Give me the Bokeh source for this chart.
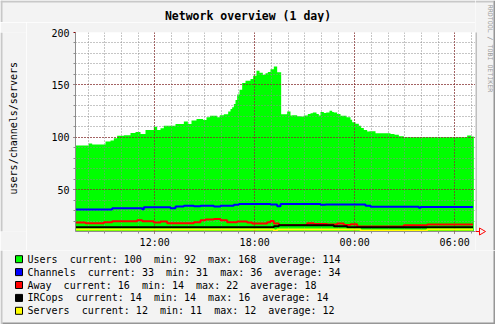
import math
from bokeh.plotting import figure
from bokeh.layouts import column, row
from bokeh.models import Range1d, FixedTicker, LinearAxis, Grid, ColumnDataSource
from bokeh.core.properties import value
from bokeh.embed import file_html
from bokeh.resources import INLINE

TITLE = "Network overview (1 day)"
Y_LABEL = "users/channels/servers"
CREDIT = "RRDTOOL / TOBI OETIKER"

# time axis in hours since 00:00 of the first day
x_ticks = [12, 18, 24, 30]
x_tick_labels = ["12:00", "18:00", "00:00", "06:00"]
x_minor = list(range(8, 32))
y_ticks = [50, 100, 150, 200]
y_minor = list(range(20, 200, 10))

users_t = [7.25, 8.05, 8.25, 9.05, 9.35, 9.55, 9.75, 10.15, 10.55, 10.85, 11.15, 11.45,
           11.95, 12.15, 12.35, 12.55, 13.25, 13.75, 13.99, 14.21, 14.51, 14.91, 15.11,
           15.31, 15.75, 15.91, 16.15, 16.41, 16.55, 16.65, 16.75, 16.85, 16.95, 17.09,
           17.25, 17.45, 17.75, 17.91, 18.11, 18.29, 18.49, 18.65, 18.79, 18.95, 19.15,
           19.35, 19.59, 19.95, 20.15, 20.25, 20.55, 20.75, 20.95, 21.19, 21.35, 21.49,
           21.71, 21.85, 21.95, 22.15, 22.29, 22.49, 22.65, 22.75, 22.95, 23.15, 23.51,
           23.75, 23.85, 24.05, 24.25, 24.39, 24.55, 24.75, 24.89, 25.25, 26.15, 26.39,
           26.65, 26.95, 30.75, 30.99, 31.15]
users_v = [92, 94, 93, 96, 97, 99, 101.5, 102, 104, 105, 103, 107,
           110, 107, 108.5, 111, 112.7, 115, 112.7, 116, 117.5, 116.5, 119,
           120.4, 119, 121, 122, 124.5, 127, 128.6, 131.8, 135.6, 140.7, 145.4,
           151.8, 154, 155.6, 158.8, 163.5, 161.6, 159.7, 161, 162.3, 165, 167.6,
           162, 122, 124.5, 120.7, 121, 120, 119.7, 120.7, 122.3, 122.9, 123.5,
           122.3, 120.7, 124, 123.2, 123.5, 125.4, 124, 123.5, 122.3, 120.4, 119,
           116.6, 114.3, 112.8, 110.9, 108.9, 107, 105.4, 105.7, 103.8, 103.2, 102.3,
           101, 100, 101.6, 100.7, 100.7]

channels_t = [7.25, 9.45, 11.25, 11.35, 12.95, 13.25, 13.75, 14.35, 14.75, 15.55, 15.95,
              16.75, 17.05, 18.95, 19.35, 19.55, 21.95, 22.25, 24.65, 24.95, 27.85, 27.95, 31.1]
channels_v = [31, 32.3, 31.3, 33.2, 32.3, 33.9, 34.5, 34.2, 34.5, 33.9, 34.5,
              35.5, 36.2, 35.8, 34.2, 36.2, 35.5, 35.8, 34.5, 33.6, 32.6, 33.3, 33.3]

away_t = [7.25, 7.85, 8.95, 9.45, 10.95, 11.25, 11.95, 12.35, 12.75, 14.35, 14.75, 15.05,
          15.55, 15.95, 16.35, 16.95, 17.55, 17.85, 18.75, 18.95, 19.15, 19.45, 21.15,
          21.55, 22.35, 22.95, 23.35, 23.75, 24.15, 26.95, 28.35, 31.1]
away_v = [18.5, 17.9, 18.8, 19.8, 20.7, 19.8, 18.5, 19.5, 17.9, 18.8, 20.7, 21.4,
          22, 20.7, 18.8, 19.5, 18.5, 17.6, 18.8, 20.1, 17.6, 16.3, 17.9,
          17.2, 16.6, 17.6, 16.3, 16.9, 14.8, 16, 16.6, 16.6]

ircops_t = [7.25, 19.15, 19.45, 22.75, 23.55, 31.1]
ircops_v = [14, 15, 16, 15, 14, 14]

servers_t = [7.25, 19.15, 19.35, 24.35, 28.35, 31.1]
servers_v = [12, 11, 12, 11, 12, 12]

names = ["Users", "Channels", "Away", "IRCops", "Servers"]
colors = ["#00FF00", "#0000FF", "#FF0000", "#000000", "#FFFF00"]
current = [100, 33, 16, 14, 12]
minimum = [92, 31, 14, 14, 11]
maximum = [168, 36, 22, 16, 12]
average = [114, 34, 18, 14, 12]

BG = "#F3F3F3"
SHADE_A = "#C8C8C8"
SHADE_B = "#969696"
MGRID = "#820000"
GRID = "#8C8C8C"
AXIS = "#8C8C8C"
FONT = "DejaVu Sans Mono"


def deco(w, h, x0, y0):
    """Decoration panel whose data space equals canvas pixels (y downward)."""
    f = figure(width=w, height=h, x_range=Range1d(x0, x0 + w), y_range=Range1d(y0 + h, y0),
               x_axis_type=None, y_axis_type=None, title=None,
               output_backend="svg", toolbar_location=None, tools="", min_border=0)
    f.background_fill_color = BG
    f.border_fill_color = BG
    f.outline_line_color = None
    return f


# ---- main chart ----
p = figure(width=449, height=228, title=None,
           x_range=Range1d(7.25, 31.25), y_range=Range1d(10, 200),
           x_axis_type=None, y_axis_type=None,
           output_backend="svg", toolbar_location=None, tools="",
           min_border_left=49, min_border_top=10, min_border_right=0, min_border_bottom=19)
p.background_fill_color = "white"
p.border_fill_color = BG
p.outline_line_color = None

xt = FixedTicker(ticks=x_ticks, minor_ticks=x_minor)
yt = FixedTicker(ticks=y_ticks, minor_ticks=y_minor)


def style_axis(ax):
    ax.axis_line_color = AXIS
    ax.major_tick_line_color = MGRID
    ax.minor_tick_line_color = GRID
    ax.major_tick_in = 0
    ax.major_tick_out = 2
    ax.minor_tick_in = 0
    ax.minor_tick_out = 2
    ax.major_label_text_font = FONT
    ax.major_label_text_font_size = "10px"
    ax.major_label_text_color = "black"


xaxis = LinearAxis(ticker=xt, major_label_overrides=dict(zip(x_ticks, x_tick_labels)))
style_axis(xaxis)
xaxis.major_label_standoff = 3
p.add_layout(xaxis, "below")

yaxis = LinearAxis(ticker=yt)
style_axis(yaxis)
yaxis.major_label_standoff = 4
p.add_layout(yaxis, "left")

p.add_layout(Grid(dimension=0, ticker=xt, grid_line_color=MGRID, grid_line_dash="1 2",
                  minor_grid_line_color=GRID, minor_grid_line_dash="1 2"))
p.add_layout(Grid(dimension=1, ticker=yt, grid_line_color=MGRID, grid_line_dash="1 2",
                  minor_grid_line_color=GRID, minor_grid_line_dash="1 2"))

p.varea_step(x=users_t, y1=[0] * len(users_t), y2=users_v, step_mode="after",
             fill_color=colors[0], level="image")
for t, v, c in [(channels_t, channels_v, colors[1]), (away_t, away_v, colors[2]),
                (ircops_t, ircops_v, colors[3]), (servers_t, servers_v, colors[4])]:
    p.step(x=t, y=v, mode="after", line_width=2, line_color=c)

# ---- title strip (canvas x 0..475, y 0..22) ----
ft = deco(475, 22, 0, 0)
ft.text(x=[247.5], y=[15.5], text=[TITLE], text_font=value(FONT), text_font_style="bold",
        text_font_size=value("11.5px"), text_align="center", text_baseline="middle",
        text_color="black")
ft.quad(left=[0], right=[475], top=[0], bottom=[2], fill_color=SHADE_A, line_color=None)
ft.quad(left=[0], right=[2], top=[0], bottom=[22], fill_color=SHADE_A, line_color=None)

# ---- y label strip (canvas x 0..26, y 22..250) ----
fy = deco(26, 228, 0, 22)
fy.text(x=[12.7], y=[131.7], text=[Y_LABEL], angle=math.pi / 2, text_font=value(FONT),
        text_font_size=value("10px"), text_align="center", text_baseline="middle",
        text_color="black")
fy.quad(left=[0], right=[2], top=[22], bottom=[250], fill_color=SHADE_A, line_color=None)

# ---- right strip (canvas x 475..495, y 0..250) ----
fc = deco(20, 250, 475, 0)
fc.text(x=[489], y=[48], text=[CREDIT], angle=-math.pi / 2, text_font=value(FONT),
        text_font_size=value("6.6px"), text_align="center", text_baseline="middle",
        text_color="#9C9C9C")
fc.segment(x0=[475.5], y0=[32], x1=[475.5], y1=[231], line_color=AXIS, line_width=1)
fc.patch(x=[475, 479, 479, 485, 479, 479], y=[231, 231, 227.5, 231, 234.5, 231],
         fill_color=None, line_color="#FF0000", line_width=1)
fc.quad(left=[475], right=[493], top=[0], bottom=[2], fill_color=SHADE_A, line_color=None)
fc.quad(left=[493], right=[495], top=[0], bottom=[250], fill_color=SHADE_B, line_color=None)

# ---- legend strip (canvas x 0..495, y 250..324) ----
fl = deco(495, 74, 0, 250)
row_y = [258.7 + 12.9 * i for i in range(len(names))]
labels = [f"{n}  current: {cu}  min: {mn}  max: {mx}  average: {av}".replace(" ", "\u00a0")
          for n, cu, mn, mx, av in zip(names, current, minimum, maximum, average)]
src = ColumnDataSource(dict(y=row_y, top=[y - 3.5 for y in row_y], bottom=[y + 3.5 for y in row_y],
                            color=colors, label=labels))
fl.quad(left=15, right=22, top="top", bottom="bottom", fill_color="color",
        line_color="black", line_width=1, source=src)
fl.text(x=27, y="y", text="label", source=src, text_font=value(FONT),
        text_font_size=value("10px"), text_align="left", text_baseline="middle",
        text_color="black")
fl.quad(left=[0], right=[2], top=[250], bottom=[324], fill_color=SHADE_A, line_color=None)
fl.quad(left=[493], right=[495], top=[250], bottom=[324], fill_color=SHADE_B, line_color=None)
fl.quad(left=[2], right=[495], top=[322], bottom=[324], fill_color=SHADE_B, line_color=None)

layout = column(row(column(ft, row(fy, p)), fc), fl)

open("out.html", "w").write(file_html(layout, INLINE))
